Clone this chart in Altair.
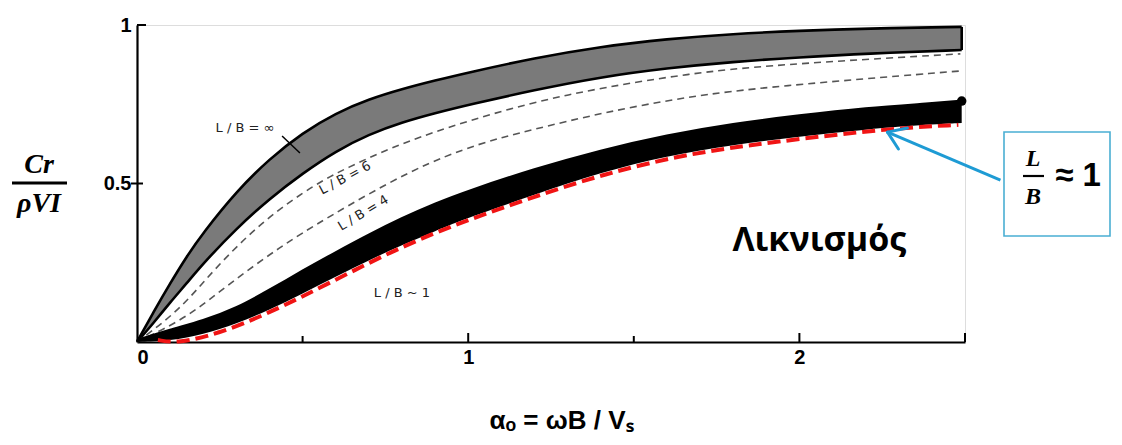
import altair as alt
import pandas as pd

# ---------------- data ----------------
# L/B = infinity band (hatched)
inf_x     = [0, 0.05, 0.1, 0.15, 0.2, 0.3, 0.4, 0.5, 0.6, 0.7, 0.8, 0.9, 1.0, 1.2, 1.4, 1.6, 1.8, 2.0, 2.2, 2.49]
inf_upper = [0, 0.095, 0.185, 0.27, 0.345, 0.475, 0.578, 0.660, 0.722, 0.766, 0.798, 0.825, 0.850, 0.896, 0.932, 0.956, 0.972, 0.982, 0.989, 0.994]
inf_lower = [0, 0.06, 0.125, 0.185, 0.248, 0.358, 0.452, 0.532, 0.602, 0.655, 0.693, 0.722, 0.748, 0.795, 0.836, 0.864, 0.884, 0.898, 0.910, 0.921]

# L/B = 6 (dashed)
lb6_x = [0, 0.13, 0.23, 0.381, 0.544, 0.634, 0.764, 0.937, 1.187, 1.408, 1.662, 1.912, 2.486]
lb6_y = [0, 0.101, 0.227, 0.385, 0.502, 0.549, 0.612, 0.678, 0.755, 0.803, 0.846, 0.874, 0.909]

# L/B = 4 (dashed)
lb4_x = [0, 0.151, 0.281, 0.432, 0.562, 0.834, 1.036, 1.187, 1.408, 1.662, 1.912, 2.486]
lb4_y = [0, 0.076, 0.186, 0.300, 0.385, 0.548, 0.628, 0.668, 0.724, 0.774, 0.806, 0.855]

# L/B ~ 1 (solid black band)
one_x     = [0, 0.1, 0.2, 0.3, 0.4, 0.5, 0.6, 0.7, 0.8, 0.9, 1.0, 1.2, 1.4, 1.6, 1.8, 2.0, 2.2, 2.4, 2.49]
one_upper = [0.005, 0.038, 0.066, 0.105, 0.163, 0.224, 0.282, 0.338, 0.390, 0.436, 0.476, 0.545, 0.604, 0.652, 0.688, 0.714, 0.737, 0.752, 0.760]
one_lower = [0, 0.003, 0.024, 0.058, 0.101, 0.153, 0.206, 0.258, 0.306, 0.350, 0.392, 0.465, 0.535, 0.587, 0.622, 0.648, 0.671, 0.687, 0.691]

# red dashed fit along L/B ~ 1
red_x = [0.063, 0.124, 0.242, 0.393, 0.592, 0.795, 0.997, 1.196, 1.408, 1.662, 1.912, 2.284, 2.48]
red_y = [0.006, -0.004, 0.025, 0.088, 0.192, 0.300, 0.385, 0.457, 0.530, 0.594, 0.630, 0.675, 0.685]

# axis ticks
x_ticks_major = [1, 2, 2.5]
x_ticks_minor = [0.5, 1.5]
x_labels = [0, 1, 2]
y_labels = [0.5, 1]

# curve labels (data coordinates)
lbl_inf = ["L / B = ∞", 0.326, 0.675]
lbl_6 = ["L / B = 6", 0.628, 0.517]
lbl_4 = ["L / B = 4", 0.683, 0.407]
lbl_1 = ["L / B ~ 1", 0.80, 0.155]
lbl_main = ["Λικνισμός", 2.06, 0.318]
leader_x = [0.438, 0.492]
leader_y = [0.650, 0.596]

# arrow to the L/B ~ 1 curve (tail at box, tip at curve)
arrow_x = [2.607, 2.266]
arrow_y = [0.511, 0.662]
wing1_x = [2.266, 2.299]
wing1_y = [0.662, 0.609]
wing2_x = [2.266, 2.326]
wing2_y = [0.662, 0.675]

W, H = 828, 317
xs = alt.Scale(domain=[0, 2.5], nice=False, zero=False)
ys = alt.Scale(domain=[0, 1], nice=False, zero=False)

xaxis = alt.Axis(values=x_labels, format="d", ticks=False, grid=False,
                 domainColor="black", domainWidth=2.2,
                 labelFont="Liberation Sans", labelFontSize=20, labelFontWeight="bold",
                 labelColor="black", labelPadding=5,
                 title="αₒ = ωB / Vₛ", titleFont="Liberation Sans", titleFontSize=26,
                 titleFontWeight="bold", titleColor="black",
                 titleX=424, titleY=78, titleBaseline="middle", titleAlign="center")
yaxis = alt.Axis(values=y_labels, ticks=False, grid=False,
                 labelExpr="datum.value == 1 ? '1' : '0.5'",
                 domainColor="black", domainWidth=2.2,
                 labelFont="Liberation Sans", labelFontSize=20, labelFontWeight="bold",
                 labelColor="black", labelPadding=6, title=None)


def X(field="x"):
    return alt.X(f"{field}:Q", scale=xs, axis=xaxis)


def Y(field="y"):
    return alt.Y(f"{field}:Q", scale=ys, axis=yaxis)


df_inf = pd.DataFrame({"x": inf_x, "y": inf_upper, "y2": inf_lower})
df_one = pd.DataFrame({"x": one_x, "y": one_upper, "y2": one_lower})
df_6 = pd.DataFrame({"x": lb6_x, "y": lb6_y})
df_4 = pd.DataFrame({"x": lb4_x, "y": lb4_y})
df_red = pd.DataFrame({"x": red_x, "y": red_y})

SMOOTH = "basis"

inf_band = alt.Chart(df_inf).mark_area(color="#7a7a7a", interpolate=SMOOTH).encode(
    x=X(), y=Y(), y2="y2:Q")
inf_top = alt.Chart(df_inf).mark_line(color="black", strokeWidth=2.6, interpolate=SMOOTH).encode(
    x=X(), y=Y())
inf_bot = alt.Chart(df_inf).mark_line(color="black", strokeWidth=2.6, interpolate=SMOOTH).encode(
    x=X(), y=Y("y2"))
inf_end = alt.Chart(df_inf.tail(1)).mark_rule(color="black", strokeWidth=2.6).encode(
    x=X(), y=Y(), y2="y2:Q")

line6 = alt.Chart(df_6).mark_line(color="#555555", strokeWidth=1.6, strokeDash=[7, 5],
                                  interpolate=SMOOTH).encode(x=X(), y=Y())
line4 = alt.Chart(df_4).mark_line(color="#555555", strokeWidth=1.6, strokeDash=[7, 5],
                                  interpolate=SMOOTH).encode(x=X(), y=Y())

one_band = alt.Chart(df_one).mark_area(color="black", interpolate=SMOOTH).encode(
    x=X(), y=Y(), y2="y2:Q")
one_top = alt.Chart(df_one).mark_line(color="black", strokeWidth=3, interpolate=SMOOTH).encode(
    x=X(), y=Y())
one_end = alt.Chart(df_one.tail(1)).mark_point(color="black", filled=True, size=90, opacity=1).encode(
    x=X(), y=Y())

red = alt.Chart(df_red).mark_line(color="#f01414", strokeWidth=4, strokeDash=[13, 6],
                                  interpolate=SMOOTH).encode(x=X(), y=Y())

# inward ticks
tk_major = alt.Chart(pd.DataFrame({"x": x_ticks_major})).mark_rule(color="black", strokeWidth=2).encode(
    x=X(), y=alt.value(H), y2=alt.value(H - 9))
tk_minor = alt.Chart(pd.DataFrame({"x": x_ticks_minor})).mark_rule(color="black", strokeWidth=2).encode(
    x=X(), y=alt.value(H), y2=alt.value(H - 6))
ytk_half = alt.Chart(pd.DataFrame({"y": [y_labels[0]]})).mark_rule(color="black", strokeWidth=2).encode(
    y=Y(), x=alt.value(-6), x2=alt.value(6))
ytk_one = alt.Chart(pd.DataFrame({"y": [y_labels[1]]})).mark_rule(color="black", strokeWidth=2).encode(
    y=Y(), x=alt.value(0), x2=alt.value(9))


def label(item, size=13, angle=0, weight="normal", font="DejaVu Sans", color="#222222"):
    d = pd.DataFrame({"t": [item[0]], "x": [item[1]], "y": [item[2]]})
    return alt.Chart(d).mark_text(fontSize=size, angle=angle, fontWeight=weight, font=font,
                                  color=color, align="center", baseline="middle").encode(
        x=X(), y=Y(), text="t:N")


t_inf = label(lbl_inf)
t_6 = label(lbl_6, angle=332)
t_4 = label(lbl_4, angle=329)
t_1 = label(lbl_1)
t_main = label(lbl_main, size=34, weight="bold", font="Open Sans", color="black")
leader = alt.Chart(pd.DataFrame({"x": leader_x, "y": leader_y})).mark_line(
    color="black", strokeWidth=1.5).encode(x=X(), y=Y())

BLUE = "#1e9bd4"
arrow = alt.Chart(pd.DataFrame({"x": arrow_x, "y": arrow_y})).mark_line(
    color=BLUE, strokeWidth=3).encode(x=X(), y=Y())
wing1 = alt.Chart(pd.DataFrame({"x": wing1_x, "y": wing1_y})).mark_line(
    color=BLUE, strokeWidth=3, strokeCap="round").encode(x=X(), y=Y())
wing2 = alt.Chart(pd.DataFrame({"x": wing2_x, "y": wing2_y})).mark_line(
    color=BLUE, strokeWidth=3, strokeCap="round").encode(x=X(), y=Y())

# annotation box "L/B ≈ 1" (pixel positions relative to plot origin)
box = alt.Chart(pd.DataFrame({"a": [0]})).mark_rect(
    fill="white", fillOpacity=0, stroke="#4aaed3", strokeWidth=1.6).encode(
    x=alt.value(867), x2=alt.value(973), y=alt.value(107), y2=alt.value(211))


def ptext(txt, px, py, size, weight="bold", style="normal", font="Liberation Serif", align="center"):
    return alt.Chart(pd.DataFrame({"t": [txt]})).mark_text(
        fontSize=size, fontWeight=weight, fontStyle=style, font=font, color="black",
        align=align, baseline="middle").encode(x=alt.value(px), y=alt.value(py), text="t:N")


def prule(x1, x2, py, w=2.5):
    return alt.Chart(pd.DataFrame({"a": [0]})).mark_rule(color="black", strokeWidth=w).encode(
        x=alt.value(x1), x2=alt.value(x2), y=alt.value(py))


box_L = ptext("L", 896, 134, 24, style="italic")
box_B = ptext("B", 896, 172, 24, style="italic")
box_line = prule(886, 907, 151, 2.2)
box_eq = ptext("≈ 1", 941, 151, 33, font="Liberation Sans")

ytitle_top = ptext("Cr", -98, 140, 28, style="italic")
ytitle_bot = ptext("ρVI", -98, 179, 28, style="italic")
ytitle_line = prule(-125, -70, 158, 3)

chart = alt.layer(
    inf_band, inf_top, inf_bot, inf_end, line6, line4,
    one_band, one_top, one_end, red,
    tk_major, tk_minor, ytk_half, ytk_one,
    t_inf, leader, t_6, t_4, t_1, t_main,
    arrow, wing1, wing2, box, box_L, box_B, box_line, box_eq,
    ytitle_top, ytitle_bot, ytitle_line,
).properties(
    width=W, height=H,
    autosize=alt.AutoSizeParams(type="none"),
    padding={"left": 129, "top": 17, "right": 149, "bottom": 95},
).configure_view(stroke=None).configure(background="white")

chart.save("out.html", embed_options={"renderer": "svg", "actions": False})
